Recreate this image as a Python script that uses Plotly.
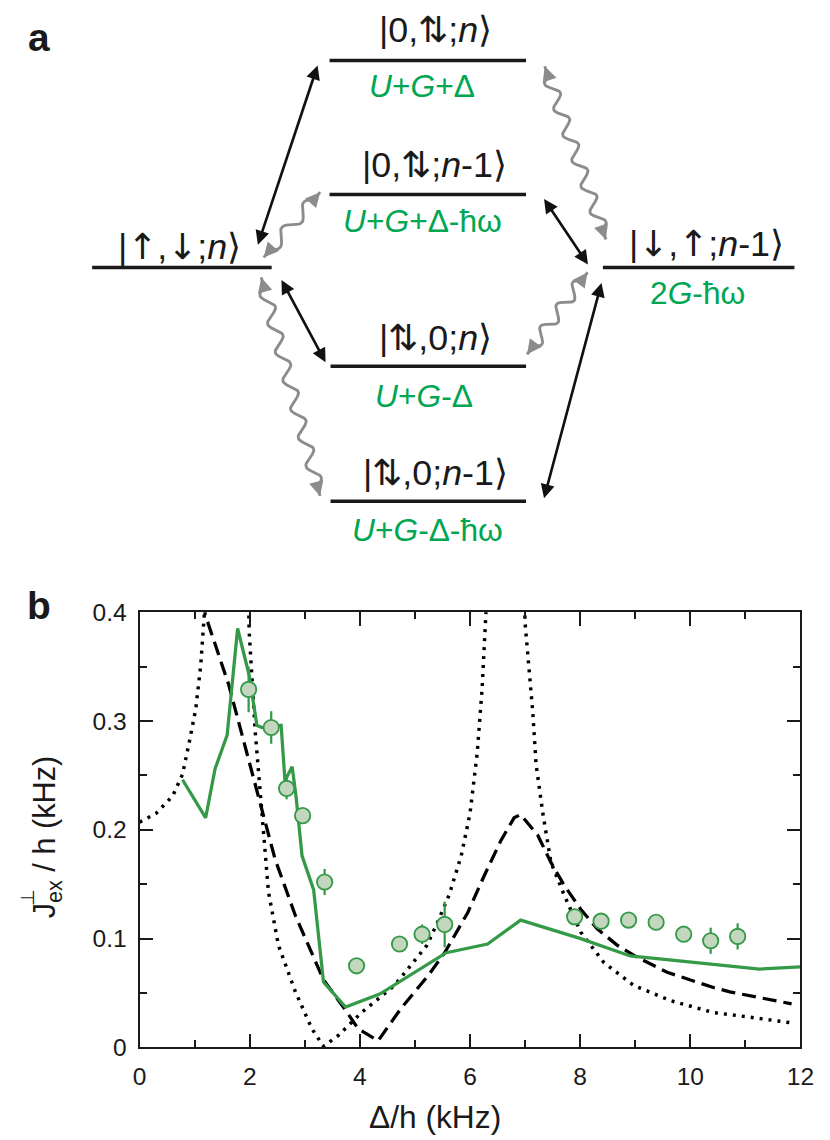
import math
import plotly.graph_objects as go

# ---------------- data (panel b) ----------------
# dotted theory curve (three branches separated by poles)
dot_x1 = [0.0, 0.30, 0.60, 0.78, 0.90, 1.02, 1.11, 1.19, 1.22]
dot_y1 = [0.207, 0.215, 0.231, 0.251, 0.280, 0.311, 0.351, 0.398, 0.43]
dot_x2 = [1.97, 1.99, 2.10, 2.22, 2.34, 2.52, 2.83, 3.13, 3.34, 3.61, 4.03, 4.63,
          5.22, 5.42, 5.62, 5.84, 6.00, 6.13, 6.22, 6.29, 6.31]
dot_y2 = [0.43, 0.382, 0.290, 0.213, 0.143, 0.094, 0.051, 0.017, 0.001, 0.011, 0.032, 0.057,
          0.094, 0.116, 0.140, 0.176, 0.215, 0.270, 0.330, 0.400, 0.43]
dot_x3 = [6.98, 7.00, 7.14, 7.20, 7.32, 7.47, 7.71, 8.01, 8.43, 8.97, 9.64, 10.42, 11.20, 11.84]
dot_y3 = [0.43, 0.390, 0.308, 0.260, 0.216, 0.170, 0.140, 0.106, 0.078, 0.057, 0.043, 0.032, 0.027, 0.0225]

# dashed theory curve
dash_x = [1.18, 1.19, 1.62, 2.10, 2.46, 2.83, 3.34, 3.73, 3.97, 4.33, 4.75, 5.24, 5.54, 5.96,
          6.26, 6.56, 6.80, 6.92, 7.23, 7.47, 7.71, 8.01, 8.31, 8.67, 9.03, 9.58, 10.42, 10.72, 11.84]
dash_y = [0.41, 0.398, 0.333, 0.241, 0.173, 0.121, 0.062, 0.035, 0.017, 0.006, 0.036, 0.066, 0.087, 0.124,
          0.158, 0.190, 0.211, 0.214, 0.195, 0.170, 0.149, 0.127, 0.109, 0.094, 0.083, 0.069, 0.055, 0.051, 0.040]

# green solid (numerical) curve
green_x = [0.78, 1.20, 1.37, 1.59, 1.78, 1.99, 2.13, 2.22, 2.57, 2.64, 2.77, 2.84, 2.95, 3.16,
           3.34, 3.74, 4.36, 5.57, 6.32, 6.92, 8.01, 8.91, 11.26, 12.0]
green_y = [0.246, 0.211, 0.256, 0.287, 0.385, 0.342, 0.296, 0.294, 0.296, 0.245, 0.258, 0.231, 0.176, 0.145,
           0.060, 0.037, 0.049, 0.087, 0.095, 0.117, 0.100, 0.084, 0.072, 0.074]

# measured points
meas_x = [1.98, 2.39, 2.67, 2.96, 3.36, 3.94, 4.72, 5.13, 5.54, 7.90, 8.38, 8.88, 9.38, 9.88, 10.37, 10.86]
meas_y = [0.329, 0.294, 0.238, 0.213, 0.152, 0.075, 0.095, 0.104, 0.113, 0.120, 0.116, 0.117, 0.115,
          0.104, 0.098, 0.102]
meas_err = [0.021, 0.015, 0.010, 0.004, 0.012, 0.0, 0.006, 0.009, 0.021, 0.0, 0.0, 0.0, 0.0, 0.0,
            0.012, 0.012]

x_ticks = [0, 2, 4, 6, 8, 10, 12]
y_ticks = [0, 0.1, 0.2, 0.3, 0.4]
y_ticklabels = ["0", "0.1", "0.2", "0.3", "0.4"]

# ---------------- content (panel a) ----------------
AR = '<span style="font-family:DejaVu Sans">'
UP = AR + "↑</span>"
DN = AR + "↓</span>"
UD = AR + "⇅</span>"
ket_labels = ["|0," + UD + ";<i>n</i>⟩", "|0," + UD + ";<i>n</i>-1⟩", "|" + UP + "," + DN + ";<i>n</i>⟩",
              "|" + DN + "," + UP + ";<i>n</i>-1⟩", "|" + UD + ",0;<i>n</i>⟩", "|" + UD + ",0;<i>n</i>-1⟩"]
energy_labels = ["<i>U</i>+<i>G</i>+Δ", "<i>U</i>+<i>G</i>+Δ-ħω", "",
                 "2<i>G</i>-ħω", "<i>U</i>+<i>G</i>-Δ", "<i>U</i>+<i>G</i>-Δ-ħω"]

# ---------------- layout constants ----------------
W, H = 830, 1140
# the photographed page comes out scaled by SC and shifted by (OX, OY);
# positions below are in target-picture pixels and are mapped back through this.
SC, OX, OY = 0.977, 7.7, 13.4
K = 1.0 / SC
FONT = "Liberation Sans, Arial, Helvetica, sans-serif"
INK = "#1a1a1a"
GREEN_TXT = "#00a651"
GREEN_LINE = "#359a48"
FILL = "#c3d7bf"
GRAY = "#8c8c8c"

levels = [(331, 528, 61), (331, 528, 195), (93, 273, 268),
          (605, 797, 268), (332, 528, 367), (332, 528, 502)]
ket_pos = [(437, 30), (436, 165), (181, 247), (709, 244), (437, 338), (437, 473)]
en_pos = [(424, 86), (424, 222), None, (700, 294), (426, 397), (429, 531)]

black_arrows = [((258.7, 246.7), (319, 66)), ((545, 198), (590, 265)),
                ((282, 279), (327, 363)), ((604, 282), (546, 499))]
gray_arrows = [((265, 258), (321.6, 192.7)), ((546.7, 66.7), (608, 240)),
               ((262.6, 278), (321.5, 496.7)), ((529, 355), (589.6, 273))]

ax_x0, ax_x1 = 140.6, 803.0
ax_y0, ax_y1 = 1048.5, 613.0


def fx(px):
    return (px - OX) * K / W


def fy(py):
    return 1 - (py - OY) * K / H


fig = go.Figure()

# ---- panel b traces ----
dot_style = dict(color="black", width=3.4 * K, dash="3px,6px")
for xs, ys in [(dot_x1, dot_y1), (dot_x2, dot_y2), (dot_x3, dot_y3)]:
    fig.add_trace(go.Scatter(x=xs, y=ys, mode="lines", line=dot_style,
                             showlegend=False, hoverinfo="skip"))
fig.add_trace(go.Scatter(x=dash_x, y=dash_y, mode="lines",
                         line=dict(color="black", width=3.2 * K, dash="14px,7px"),
                         showlegend=False, hoverinfo="skip"))
fig.add_trace(go.Scatter(x=green_x, y=green_y, mode="lines",
                         line=dict(color=GREEN_LINE, width=3.2 * K),
                         showlegend=False, hoverinfo="skip"))
fig.add_trace(go.Scatter(x=meas_x, y=meas_y, mode="markers",
                         marker=dict(size=15 * K, color=FILL,
                                     line=dict(color=GREEN_LINE, width=1.8 * K)),
                         error_y=dict(type="data", array=meas_err, visible=True,
                                      color=GREEN_LINE, thickness=2.2 * K, width=0),
                         showlegend=False, hoverinfo="skip"))


# ---- panel a: wavy lines ----
def wavy(p0, p1, wl=28.0, amp=6.0, lead=10.0):
    (x0, y0), (x1, y1) = p0, p1
    L = math.hypot(x1 - x0, y1 - y0)
    ux, uy = (x1 - x0) / L, (y1 - y0) / L
    nx, ny = -uy, ux
    xs, ys = [], []
    n = int(L)
    span = L - 2 * lead
    nw = max(1, round(span / wl))
    wl2 = span / nw
    for i in range(n + 1):
        s = L * i / n
        if lead < s < L - lead:
            off = amp * math.sin(2 * math.pi * (s - lead) / wl2)
        else:
            off = 0.0
        xs.append(x0 + ux * s + nx * off)
        ys.append(y0 + uy * s + ny * off)
    return xs, ys


for p0, p1 in gray_arrows:
    xs, ys = wavy(p0, p1)
    fig.add_trace(go.Scatter(x=xs, y=ys, xaxis="x2", yaxis="y2", mode="lines",
                             line=dict(color=GRAY, width=2.8 * K), showlegend=False,
                             hoverinfo="skip"))

annotations = []


def head(tip, frm, color, width):
    (tx, ty), (gx, gy) = tip, frm
    L = math.hypot(tx - gx, ty - gy)
    bx, by = tx - (tx - gx) / L * 12, ty - (ty - gy) / L * 12
    annotations.append(dict(x=tx, y=ty, ax=bx, ay=by, xref="x2", yref="y2",
                            axref="x2", ayref="y2", text="", showarrow=True,
                            arrowhead=2, arrowsize=1.1, arrowwidth=width,
                            arrowcolor=color, standoff=0))


for p0, p1 in gray_arrows:
    head(p1, p0, GRAY, 2.6 * K)
    head(p0, p1, GRAY, 2.6 * K)

for p0, p1 in black_arrows:
    annotations.append(dict(x=p1[0], y=p1[1], ax=p0[0], ay=p0[1], xref="x2", yref="y2",
                            axref="x2", ayref="y2", text="", showarrow=True,
                            arrowhead=2, startarrowhead=2, arrowside="end+start",
                            arrowsize=1.05, startarrowsize=1.05, arrowwidth=2.6 * K,
                            arrowcolor="#111111", standoff=0, startstandoff=0))

shapes = []
for x0, x1, y in levels:
    shapes.append(dict(type="line", xref="x2", yref="y2", x0=x0, x1=x1, y0=y, y1=y,
                       line=dict(color=INK, width=3.4 * K)))

for txt, (x, y) in zip(ket_labels, ket_pos):
    annotations.append(dict(x=x, y=y, xref="x2", yref="y2", text=txt, showarrow=False,
                            xanchor="center", yanchor="middle",
                            font=dict(family=FONT, size=35 * K, color=INK)))
for txt, pos in zip(energy_labels, en_pos):
    if pos is None:
        continue
    annotations.append(dict(x=pos[0], y=pos[1], xref="x2", yref="y2", text=txt, showarrow=False,
                            xanchor="center", yanchor="middle",
                            font=dict(family=FONT, size=31 * K, color=GREEN_TXT)))

# panel letters
annotations.append(dict(x=40, y=38, xref="x2", yref="y2", text="<b>a</b>", showarrow=False,
                        font=dict(family=FONT, size=38 * K, color=INK)))
annotations.append(dict(x=40, y=606, xref="x2", yref="y2", text="<b>b</b>", showarrow=False,
                        font=dict(family=FONT, size=38 * K, color=INK)))

# axis titles
annotations.append(dict(x=437, y=1118, xref="x2", yref="y2", text="Δ/h (kHz)", showarrow=False,
                        font=dict(family=FONT, size=31 * K, color=INK)))
annotations.append(dict(x=47, y=838, xref="x2", yref="y2", text="J<sub>ex</sub> / h (kHz)",
                        textangle=-90, showarrow=False,
                        font=dict(family=FONT, size=30 * K, color=INK)))
annotations.append(dict(x=28, y=899, xref="x2", yref="y2", text="⊥",
                        textangle=-90, showarrow=False,
                        font=dict(family=FONT, size=19 * K, color=INK)))

axis_common = dict(showgrid=False, zeroline=False, showline=True, linecolor=INK,
                   linewidth=2 * K, mirror="allticks", ticks="inside", ticklen=13 * K,
                   tickwidth=1.6 * K, tickcolor=INK,
                   tickfont=dict(family=FONT, size=24 * K, color=INK))

fig.update_layout(
    width=W, height=H, margin=dict(l=0, r=0, t=0, b=0),
    paper_bgcolor="white", plot_bgcolor="rgba(0,0,0,0)",
    xaxis=dict(domain=[fx(ax_x0), fx(ax_x1)], range=[0, 12], tickvals=x_ticks,
               minor=dict(dtick=1, ticklen=7 * K, ticks="inside", tickwidth=1.6 * K, tickcolor=INK),
               anchor="y", ticklabelstandoff=6, **axis_common),
    yaxis=dict(domain=[fy(ax_y0), fy(ax_y1)], range=[0, 0.4],
               tickvals=y_ticks, ticktext=y_ticklabels,
               minor=dict(dtick=0.05, ticklen=7 * K, ticks="inside", tickwidth=1.6 * K, tickcolor=INK),
               anchor="x", ticklabelstandoff=6, **axis_common),
    xaxis2=dict(domain=[0, 1], range=[OX, OX + W * SC], visible=False, anchor="y2"),
    yaxis2=dict(domain=[0, 1], range=[OY + H * SC, OY], visible=False, anchor="x2"),
    shapes=shapes,
    annotations=annotations,
    font=dict(family=FONT),
)

fig.write_html("out.html", config={"displayModeBar": False},
               post_script="document.body.style.margin='0';")
